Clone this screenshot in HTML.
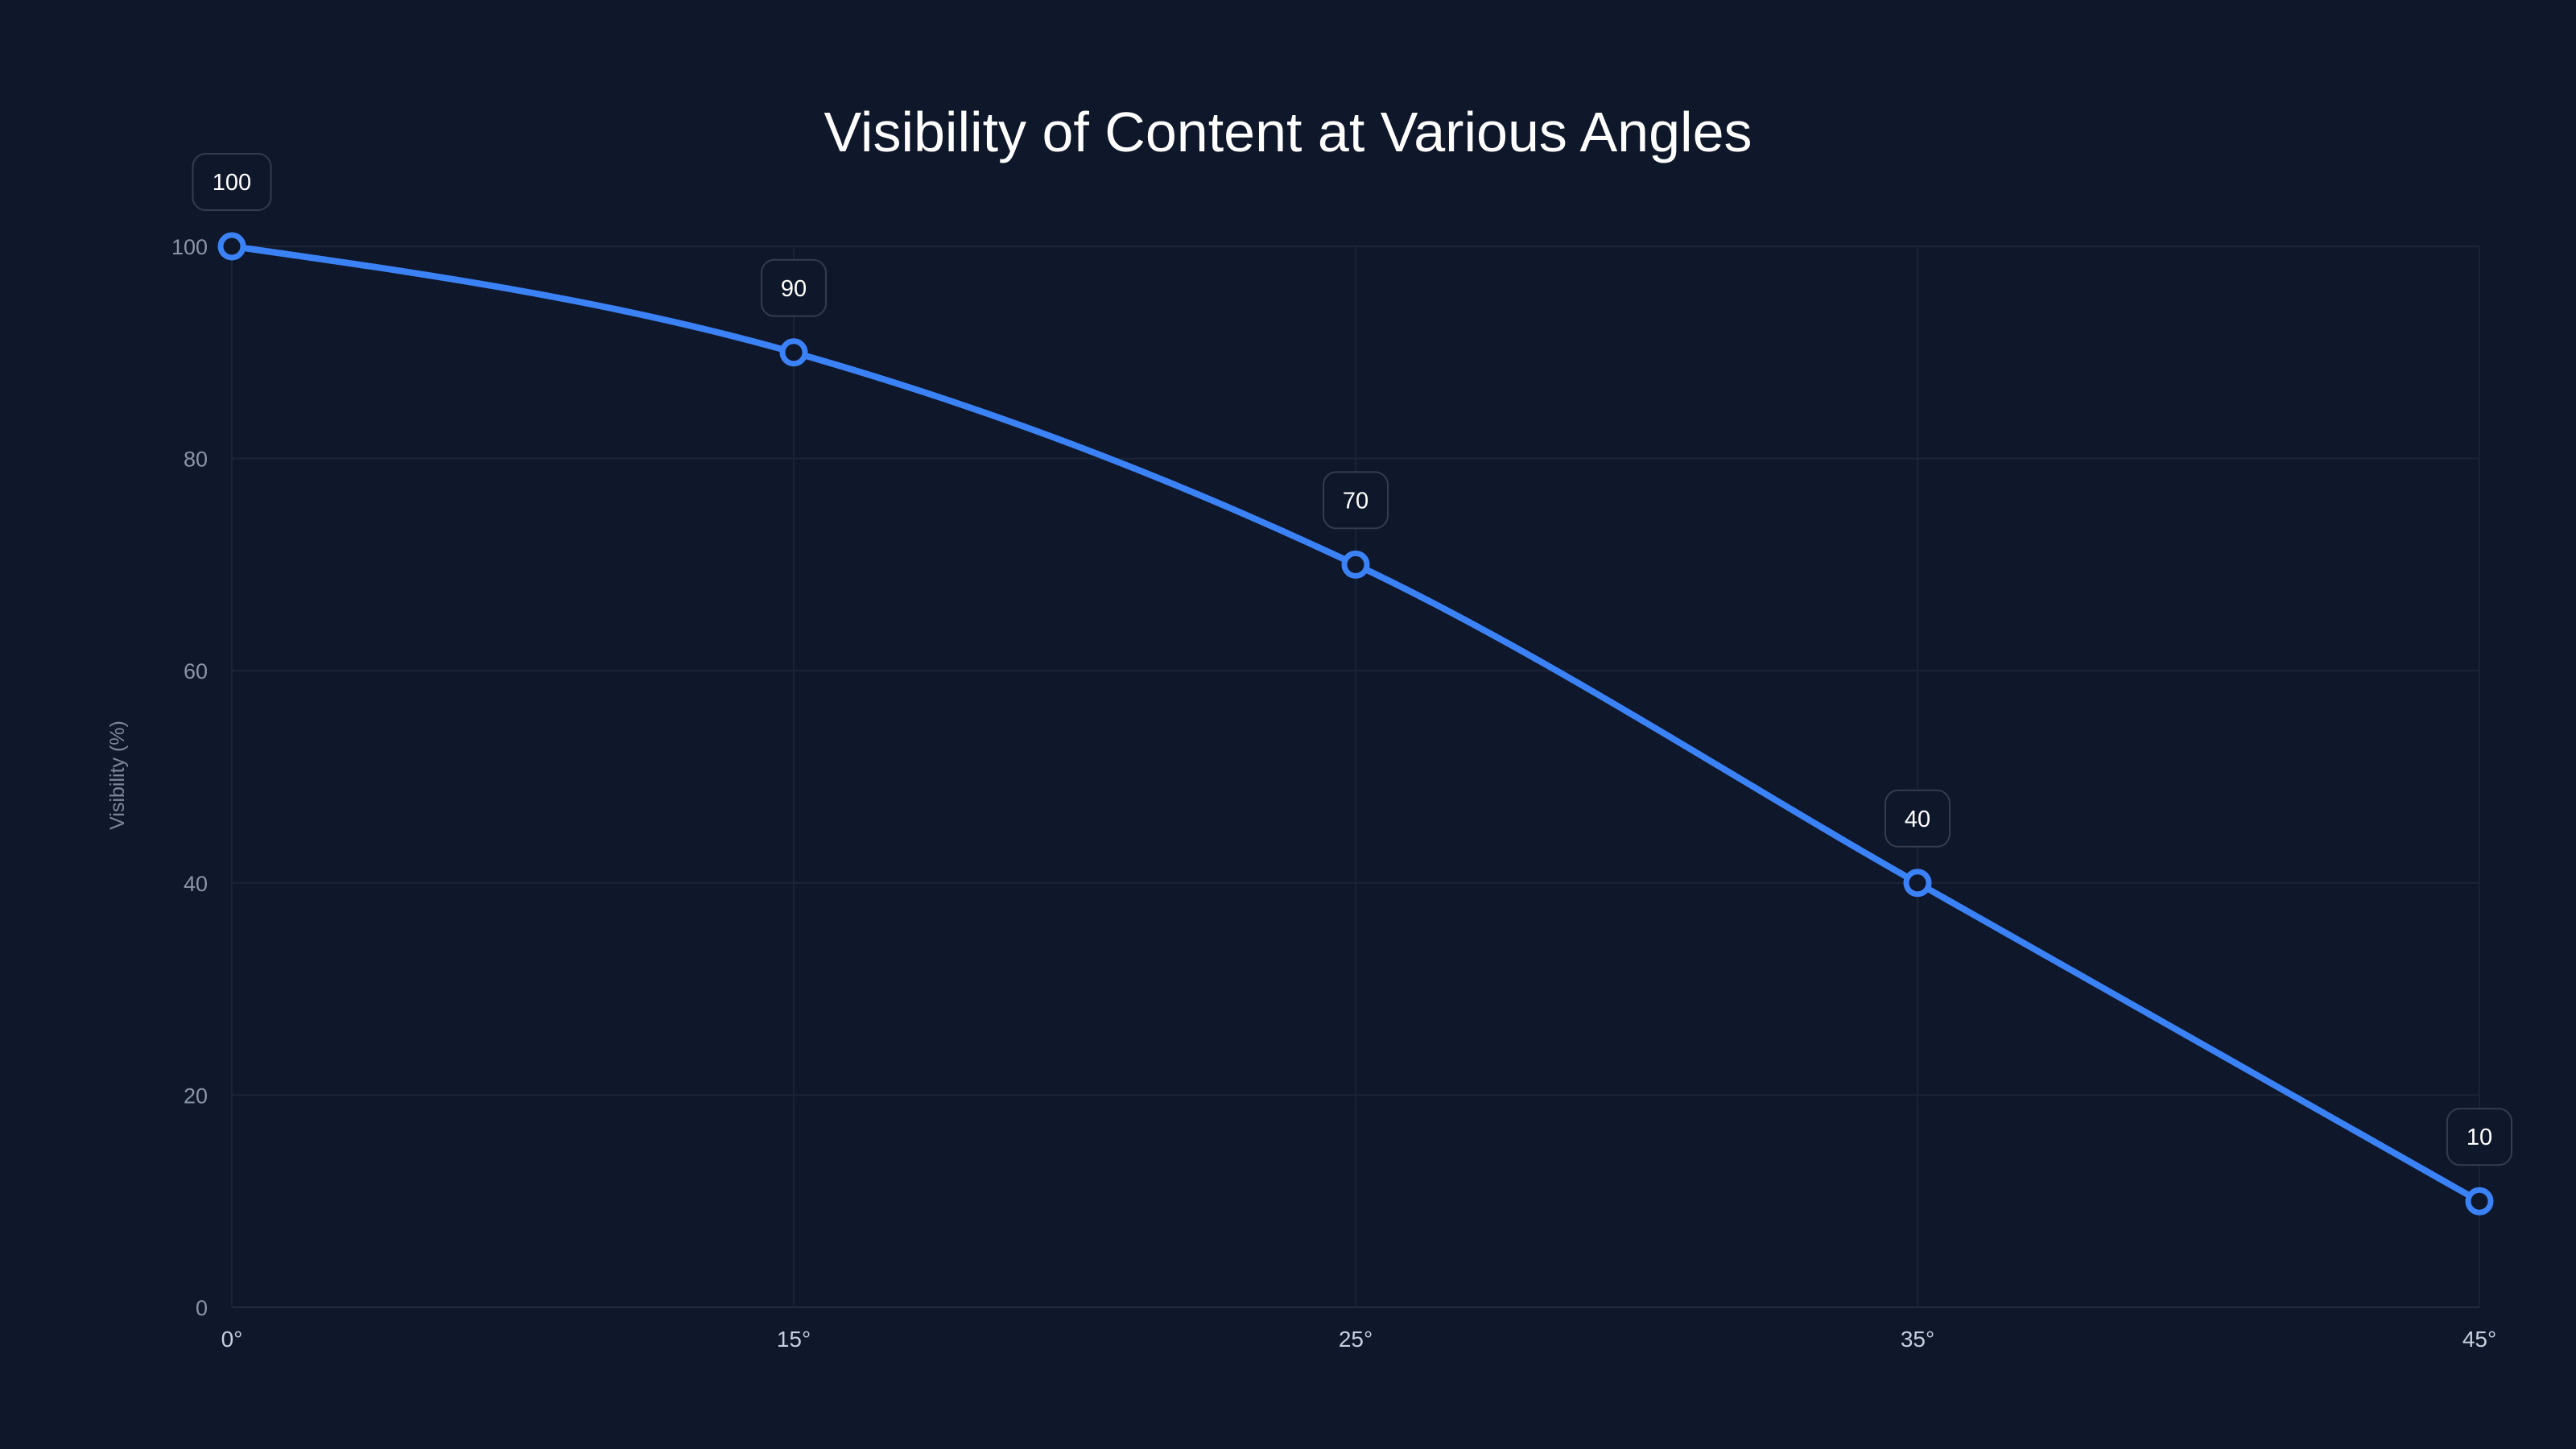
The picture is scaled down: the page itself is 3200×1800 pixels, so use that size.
<!DOCTYPE html>
<html><head><meta charset="utf-8"><style>
html,body{margin:0;padding:0;background:#0f172a;}
svg{display:block;}
text{font-family:"Liberation Sans",sans-serif;}
</style></head><body>
<svg id="chart" width="3200" height="1800" viewBox="0 0 3200 1800" xmlns="http://www.w3.org/2000/svg">
<rect width="3200" height="1800" fill="#0f172a"/>
<text x="1600" y="188" text-anchor="middle" font-size="70" fill="#ffffff">Visibility of Content at Various Angles</text>
<text transform="translate(154,963) rotate(-90)" text-anchor="middle" font-size="25" fill="#7d8799">Visibility (%)</text>
<g id="grid"></g><g id="axes"></g><g id="series"></g><g id="labels"></g>
</svg>
<script>
const categories = ["0°","15°","25°","35°","45°"];
const values = [100, 90, 70, 40, 10];
const yTicks = [0, 20, 40, 60, 80, 100];

const NS = "http://www.w3.org/2000/svg";
const X0 = 288, X1 = 3080, Y0 = 1624, Y1 = 306;
function xScale(i){ return X0 + (X1 - X0) * i / (categories.length - 1); }
function yScale(v){ return Y0 - (Y0 - Y1) * v / 100; }
function mk(tag, attrs, parent){ const e = document.createElementNS(NS, tag); for (const k in attrs) e.setAttribute(k, attrs[k]); parent.appendChild(e); return e; }

const grid = document.getElementById('grid'), axes = document.getElementById('axes');
yTicks.forEach(t => {
  const l = mk('line', {x1:X0, x2:X1, y1:yScale(t), y2:yScale(t), stroke: t===0 ? '#222c3e' : '#1c2537', 'stroke-width':2}, grid);
  
  
  const tx = mk('text', {x:258, y:yScale(t)+10, 'text-anchor':'end', 'font-size':27, fill:'#8a95a8'}, axes);
  tx.textContent = t;
  
  
});
categories.forEach((c, i) => {
  const l = mk('line', {x1:xScale(i), x2:xScale(i), y1:Y1, y2:Y0, stroke:'#1a2335', 'stroke-width':2}, grid);
  
  
  const tx = mk('text', {x:xScale(i), y:1673, 'text-anchor':'middle', 'font-size':28, fill:'#c5cfdd'}, axes);
  tx.textContent = c;
  
  
});

// monotone X curve
const pts = values.map((v, i) => [xScale(i), yScale(v)]);
const n = pts.length, d = [], m = [];
for (let i = 0; i < n - 1; i++) d.push((pts[i+1][1] - pts[i][1]) / (pts[i+1][0] - pts[i][0]));
for (let i = 0; i < n; i++) {
  if (i === 0) m.push(d[0]);
  else if (i === n - 1) m.push(d[n-2]);
  else if (d[i-1] * d[i] <= 0) m.push(0);
  else {
    const h0 = pts[i][0]-pts[i-1][0], h1 = pts[i+1][0]-pts[i][0];
    const p = (d[i-1]*h1 + d[i]*h0)/(h0+h1);
    m.push((Math.sign(d[i-1])+Math.sign(d[i])) * Math.min(Math.abs(d[i-1]), Math.abs(d[i]), 0.5*Math.abs(p)));
  }
}
// endpoints like d3 monotoneX
m[0] = (3*d[0] - m[1]) / 2;
m[n-1] = (3*d[n-2] - m[n-2]) / 2;
let path = `M${pts[0][0]},${pts[0][1]}`;
for (let i = 0; i < n - 1; i++) {
  const h = (pts[i+1][0] - pts[i][0]) / 3;
  path += ` C${pts[i][0]+h},${pts[i][1]+m[i]*h} ${pts[i+1][0]-h},${pts[i+1][1]-m[i+1]*h} ${pts[i+1][0]},${pts[i+1][1]}`;
}
const series = document.getElementById('series'), labels = document.getElementById('labels');
const line = mk('path', {d:path, fill:'none', stroke:'#3b82f6', 'stroke-width':8, 'stroke-linejoin':'round'}, series);


values.forEach((v, i) => {
  const c = mk('circle', {cx:xScale(i), cy:yScale(v), r:14, fill:'#0f172a', stroke:'#3b82f6', 'stroke-width':7}, series);
  
  
  const txt = String(v);
  const w = txt.length * 17 + 46, h = 70, cx = xScale(i), cy = yScale(v) - 80;
  const r = mk('rect', {x:cx - w/2, y:cy - h/2, width:w, height:h, rx:16, fill:'#0f172a', stroke:'#343c4d', 'stroke-width':2}, labels);
  
  
  const t = mk('text', {x:cx, y:cy + 10, 'text-anchor':'middle', 'font-size':29, fill:'#ffffff'}, labels);
  t.textContent = txt;
  
  
});
</script>
</body></html>
